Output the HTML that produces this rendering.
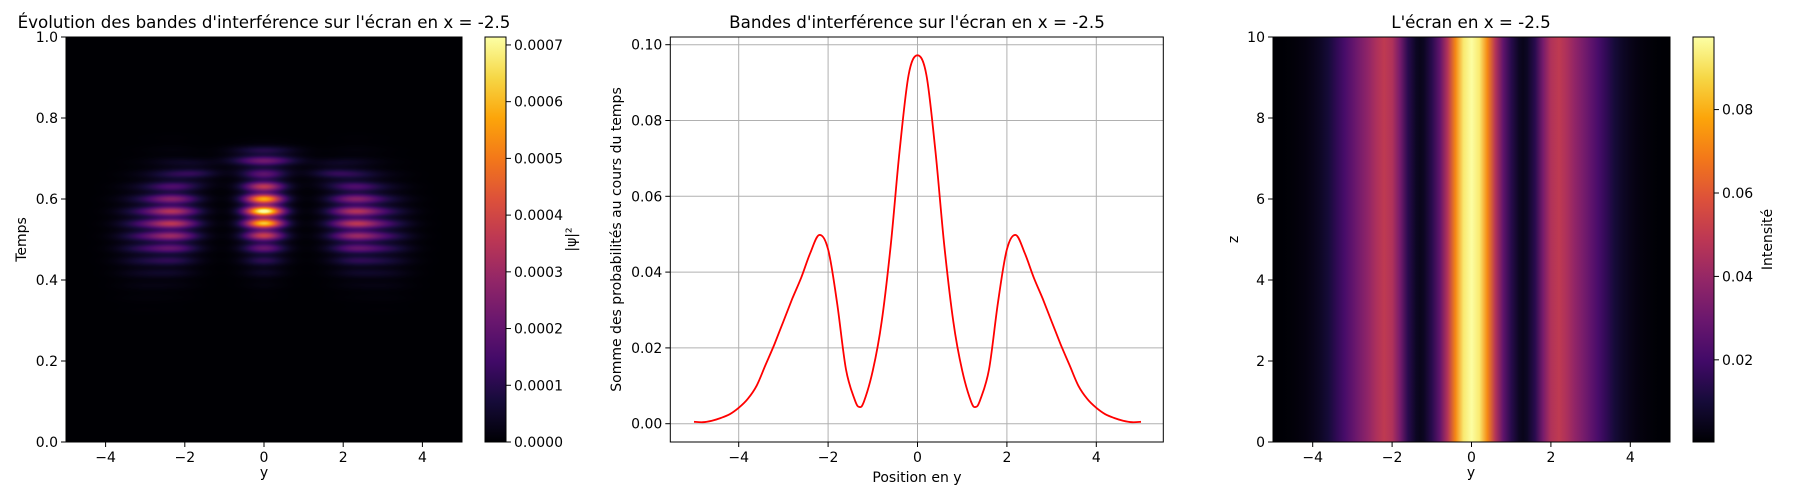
<!DOCTYPE html>
<html><head><meta charset="utf-8">
<style>
html,body{margin:0;padding:0;background:#fff;}
#wrap{position:relative;width:1800px;height:500px;}
svg{position:absolute;left:0;top:0;}
text{font-family:"DejaVu Sans","Liberation Sans",sans-serif;fill:#000;}
canvas{position:absolute;}
</style></head>
<body>
<div id="wrap">
<canvas id="hm1" width="396" height="405" style="left:66px;top:37px;"></canvas>
<svg id="svg" width="1800" height="500"></svg>
</div>
<script>
// ---- data ----
const profileY = [-5,-4.8,-4.6,-4.4,-4.2,-4,-3.8,-3.6,-3.4,-3.2,-3,-2.8,-2.6,-2.4,-2.2,-2,-1.8,-1.6,-1.4,-1.3,-1.2,-1,-0.8,-0.6,-0.4,-0.2,0,0.2,0.4,0.6,0.8,1,1.2,1.3,1.4,1.6,1.8,2,2.2,2.4,2.6,2.8,3,3.2,3.4,3.6,3.8,4,4.2,4.4,4.6,4.8,5];
const profileVal = [0.0005,0.0004,0.0008,0.0015,0.0025,0.0042,0.0065,0.010,0.0155,0.021,0.027,0.033,0.0386,0.045,0.0498,0.046,0.032,0.0143,0.0062,0.0044,0.0058,0.014,0.027,0.047,0.072,0.092,0.0972,0.092,0.072,0.047,0.027,0.014,0.0058,0.0044,0.0062,0.0143,0.032,0.046,0.0498,0.045,0.0386,0.033,0.027,0.021,0.0155,0.010,0.0065,0.0042,0.0025,0.0015,0.0008,0.0004,0.0005];
const xTicks = [-4,-2,0,2,4];
const xTickLabels = ["\u22124","\u22122","0","2","4"];
const p1YTicks = [0,0.2,0.4,0.6,0.8,1.0];
const p1YTickLabels = ["0.0","0.2","0.4","0.6","0.8","1.0"];
const cb1Ticks = [0,0.0001,0.0002,0.0003,0.0004,0.0005,0.0006,0.0007];
const cb1TickLabels = ["0.0000","0.0001","0.0002","0.0003","0.0004","0.0005","0.0006","0.0007"];
const p2YTicks = [0,0.02,0.04,0.06,0.08,0.10];
const p2YTickLabels = ["0.00","0.02","0.04","0.06","0.08","0.10"];
const p3YTicks = [0,2,4,6,8,10];
const p3YTickLabels = ["0","2","4","6","8","10"];
const cb3Ticks = [0.02,0.04,0.06,0.08];
const cb3TickLabels = ["0.02","0.04","0.06","0.08"];
// blobs for time evolution: y, t, amplitude, sigmaY, sigmaT
const blobY = [0,0,0,0,-2.3,2.3,-3.1,3.1,-1.7,1.7];
const blobT = [0.57,0.50,0.64,0.70,0.55,0.55,0.52,0.52,0.665,0.665];
const blobAmp = [0.00066,0.00018,0.00016,0.0002,0.00034,0.00034,0.0001,0.0001,0.00008,0.00008];
const blobSY = [0.33,0.38,0.4,0.55,0.45,0.45,0.45,0.45,0.4,0.4];
const blobST = [0.04,0.05,0.03,0.018,0.065,0.065,0.07,0.07,0.018,0.018];

// ---- colormap ----
const inf = ["#000004","#160b39","#420a68","#6a176e","#932667","#bc3754","#dd513a","#f37819","#fca50a","#f6d746","#fcffa4"];
function hx(c){return [parseInt(c.substr(1,2),16),parseInt(c.substr(3,2),16),parseInt(c.substr(5,2),16)];}
const infRGB = inf.map(hx);
function cmap(v){v=Math.max(0,Math.min(1,v));const f=v*10;const i=Math.min(9,Math.floor(f));const r=f-i;
 const a=infRGB[i],b=infRGB[i+1];return [0,1,2].map(k=>Math.round(a[k]+(b[k]-a[k])*r));}
function rgb(a){return `rgb(${a[0]},${a[1]},${a[2]})`;}

const NS="http://www.w3.org/2000/svg";
const svg=document.getElementById('svg');
function el(tag,attrs,parent){const e=document.createElementNS(NS,tag);for(const k in attrs)e.setAttribute(k,attrs[k]);(parent||svg).appendChild(e);return e;}
function txt(x,y,s,anchor,size,extra){const t=el('text',Object.assign({x:x,y:y,'text-anchor':anchor||'middle','font-size':size||14},extra||{}));t.textContent=s;return t;}

const TOP=37,BOT=442;
// ---- panel 1 ----
const p1={l:66,r:462};
const x1=v=>p1.l+(v+5)/10*(p1.r-p1.l);
const y1=v=>BOT-v*(BOT-TOP);
const vmax1=0.000714;
(function(){
 const c=document.getElementById('hm1');const ctx=c.getContext('2d');
 const W=c.width,H=c.height;const img=ctx.createImageData(W,H);
 for(let py=0;py<H;py++){const t=1-(py+0.5)/H;
  const stripe=0.72+0.28*Math.cos(2*Math.PI*(t-0.57)/0.031);
  for(let px=0;px<W;px++){const y=-5+(px+0.5)/W*10;let s=0;
   for(let b=0;b<blobY.length;b++){const dy=(y-blobY[b])/blobSY[b],dt=(t-blobT[b])/blobST[b];s+=blobAmp[b]*Math.exp(-0.5*(dy*dy+dt*dt));}
   s*=stripe;const col=cmap(s/vmax1);const i=(py*W+px)*4;
   img.data[i]=col[0];img.data[i+1]=col[1];img.data[i+2]=col[2];img.data[i+3]=255;}}
 ctx.putImageData(img,0,0);
})();
const g1=el('g',{});


el('rect',{x:p1.l,y:TOP,width:p1.r-p1.l,height:BOT-TOP,fill:'none',stroke:'#000','stroke-width':1},g1);
xTicks.forEach((v,i)=>{const x=x1(v);el('line',{x1:x,x2:x,y1:BOT,y2:BOT+5,stroke:'#000'},g1);const t=txt(x,BOT+20,xTickLabels[i]);});
p1YTicks.forEach((v,i)=>{const y=y1(v);el('line',{x1:p1.l-5,x2:p1.l,y1:y,y2:y,stroke:'#000'},g1);const t=txt(p1.l-8,y+5,p1YTickLabels[i],'end');});
let t;
t=txt(264,28,"Évolution des bandes d'interférence sur l'écran en x = -2.5",'middle',16.7);
t=txt(264,477,"y");
t=txt(0,0,"Temps",'middle',14,{transform:`translate(26,${(TOP+BOT)/2}) rotate(-90)`});
// colorbar 1
const cb1={l:485,r:506};
const defs=el('defs',{});
function vgrad(id){const g=el('linearGradient',{id:id,x1:0,y1:1,x2:0,y2:0},defs);inf.forEach((c,i)=>el('stop',{offset:i/10,'stop-color':c},g));}
vgrad('gInf');
const cbr1=el('rect',{x:cb1.l,y:TOP,width:cb1.r-cb1.l,height:BOT-TOP,fill:'url(#gInf)',stroke:'#000','stroke-width':1});

cb1Ticks.forEach((v,i)=>{const y=BOT-v/vmax1*(BOT-TOP);el('line',{x1:cb1.r,x2:cb1.r+5,y1:y,y2:y,stroke:'#000'});const tt=txt(cb1.r+8,y+5,cb1TickLabels[i],'start');});
t=txt(0,0,"|ψ|²",'middle',14,{transform:`translate(576,${(TOP+BOT)/2}) rotate(-90)`});

// ---- panel 2 ----
const p2={l:670.3,r:1163.3};
const x2=v=>917.5+v*44.7;
const y2=v=>423.7-v*3790;
const g2=el('g',{});


xTicks.forEach(v=>{el('line',{x1:x2(v),x2:x2(v),y1:TOP,y2:BOT,stroke:'#b0b0b0','stroke-width':1},g2);});
p2YTicks.forEach(v=>{el('line',{x1:p2.l,x2:p2.r,y1:y2(v),y2:y2(v),stroke:'#b0b0b0','stroke-width':1},g2);});
const pts=profileY.map((v,i)=>[x2(v),y2(profileVal[i])]);
let d='M'+pts[0][0].toFixed(1)+','+pts[0][1].toFixed(1);
for(let i=0;i<pts.length-1;i++){const p0=pts[Math.max(0,i-1)],p1_=pts[i],p2_=pts[i+1],p3_=pts[Math.min(pts.length-1,i+2)];
 const c1=[p1_[0]+(p2_[0]-p0[0])/6,p1_[1]+(p2_[1]-p0[1])/6],c2=[p2_[0]-(p3_[0]-p1_[0])/6,p2_[1]-(p3_[1]-p1_[1])/6];
 d+=`C${c1[0].toFixed(1)},${c1[1].toFixed(1)} ${c2[0].toFixed(1)},${c2[1].toFixed(1)} ${p2_[0].toFixed(1)},${p2_[1].toFixed(1)}`;}
const line=el('path',{d:d,fill:'none',stroke:'#ff0000','stroke-width':1.8,'stroke-linejoin':'round'},g2);

el('rect',{x:p2.l,y:TOP,width:p2.r-p2.l,height:BOT-TOP,fill:'none',stroke:'#000'},g2);
xTicks.forEach((v,i)=>{el('line',{x1:x2(v),x2:x2(v),y1:BOT,y2:BOT+5,stroke:'#000'},g2);const tt=txt(x2(v),BOT+20,xTickLabels[i]);});
p2YTicks.forEach((v,i)=>{el('line',{x1:p2.l-5,x2:p2.l,y1:y2(v),y2:y2(v),stroke:'#000'},g2);const tt=txt(p2.l-8,y2(v)+5,p2YTickLabels[i],'end');});
t=txt(917,28,"Bandes d'interférence sur l'écran en x = -2.5",'middle',16.7);
t=txt(917,482,"Position en y");
t=txt(0,0,"Somme des probabilités au cours du temps",'middle',14,{transform:`translate(621,${(TOP+BOT)/2}) rotate(-90)`});

// ---- panel 3 ----
const p3={l:1273,r:1670};
const x3=v=>p3.l+(v+5)/10*(p3.r-p3.l);
const y3=v=>BOT-v/10*(BOT-TOP);
const vmin3=0.0003,vmax3=0.0974;
const hg=el('linearGradient',{id:'gScreen',x1:0,y1:0,x2:1,y2:0},defs);
profileY.forEach((v,i)=>{el('stop',{offset:((v+5)/10).toFixed(4),'stop-color':rgb(cmap((profileVal[i]-vmin3)/(vmax3-vmin3)))},hg);});
const scr=el('rect',{x:p3.l,y:TOP,width:p3.r-p3.l,height:BOT-TOP,fill:'url(#gScreen)',stroke:'#000'});

xTicks.forEach((v,i)=>{el('line',{x1:x3(v),x2:x3(v),y1:BOT,y2:BOT+5,stroke:'#000'});const tt=txt(x3(v),BOT+20,xTickLabels[i]);});
p3YTicks.forEach((v,i)=>{el('line',{x1:p3.l-5,x2:p3.l,y1:y3(v),y2:y3(v),stroke:'#000'});const tt=txt(p3.l-8,y3(v)+5,p3YTickLabels[i],'end');});
t=txt(1471,28,"L'écran en x = -2.5",'middle',16.7);
t=txt(1471,477,"y");
t=txt(0,0,"z",'middle',14,{transform:`translate(1238,${(TOP+BOT)/2}) rotate(-90)`});
const cb3={l:1693,r:1714};
const cbr3=el('rect',{x:cb3.l,y:TOP,width:cb3.r-cb3.l,height:BOT-TOP,fill:'url(#gInf)',stroke:'#000'});

cb3Ticks.forEach((v,i)=>{const y=BOT-(v-vmin3)/(vmax3-vmin3)*(BOT-TOP);el('line',{x1:cb3.r,x2:cb3.r+5,y1:y,y2:y,stroke:'#000'});const tt=txt(cb3.r+8,y+5,cb3TickLabels[i],'start');});
t=txt(0,0,"Intensité",'middle',14,{transform:`translate(1772,${(TOP+BOT)/2}) rotate(-90)`});
</script>
</body></html>
